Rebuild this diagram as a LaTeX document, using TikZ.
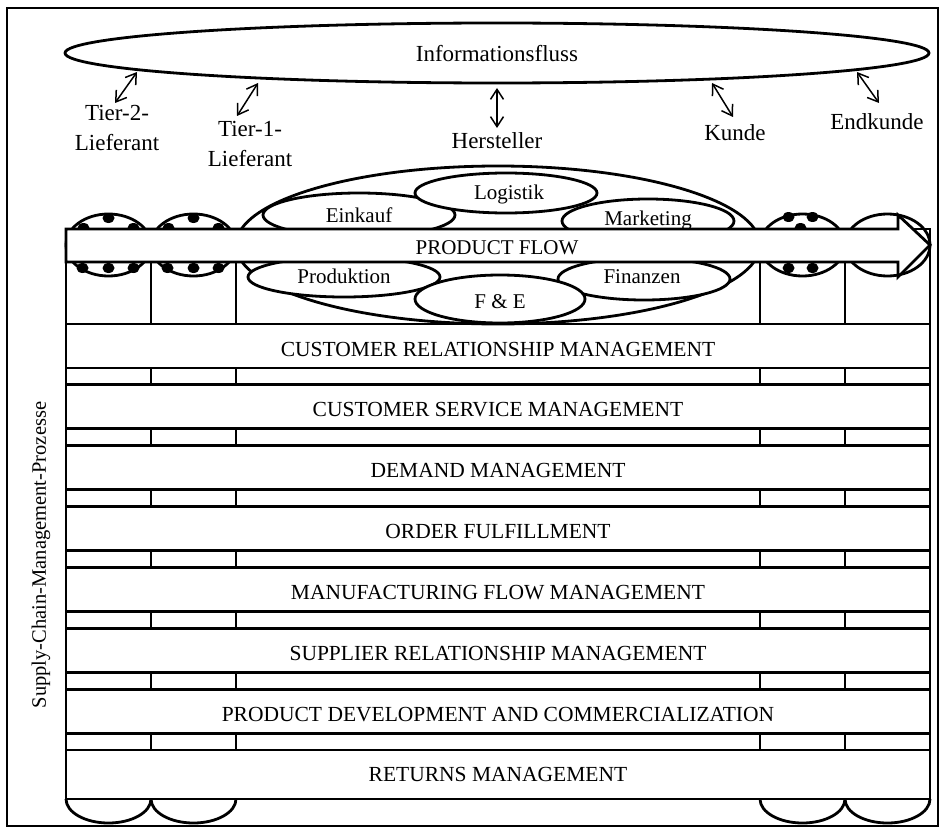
\documentclass[tikz,border=0pt]{standalone}
\usepackage{fontspec}
\setmainfont{Liberation Serif}
\usetikzlibrary{arrows.meta}
\begin{document}
\begin{tikzpicture}[x=1pt,y=-1pt,
  thick line/.style={line width=2.8pt},
  thin line/.style={line width=1.5pt},
  bandtext/.style={font=\fontsize{21.5}{26}\selectfont, anchor=base, inner sep=0pt},
  lbl/.style={font=\fontsize{23}{30}\selectfont, align=center, inner sep=0pt},
  unit/.style={font=\fontsize{21}{25}\selectfont, anchor=base, inner sep=0pt},
  infoarrow/.style={thin line, {Straight Barb[length=10pt,width=13pt]}-{Straight Barb[length=10pt,width=13pt]}},
  unitell/.style={thick line, fill=white},
]
\useasboundingbox (0,0) rectangle (944,832);
\draw[line width=1.4pt] (7,8) rectangle (938,826);

% ---- information flow ----
\draw[thick line] (497,53) ellipse [x radius=432pt, y radius=30pt];
\node[font=\fontsize{23}{28}\selectfont, anchor=base, inner sep=0pt] (info) at (497,62) {Informationsfluss};

\node[lbl] (t2) at (117,128) {Tier-2-\\Lieferant};
\node[lbl] (t1) at (250,144) {Tier-1-\\Lieferant};
\node[lbl, anchor=base] (her) at (497,148) {Hersteller};
\node[lbl, anchor=base] (kun) at (735,140) {Kunde};
\node[lbl, anchor=base] (end) at (877,129) {Endkunde};

\coordinate (i2) at (137,72);  \coordinate (l2) at (115,103);
\coordinate (i1) at (258,83);  \coordinate (l1) at (237,116);
\coordinate (ih) at (497,88);  \coordinate (lh) at (497,128);
\coordinate (ik) at (712,83);  \coordinate (lk) at (733,117);
\coordinate (ie) at (857,72);  \coordinate (le) at (879,103);
\draw[infoarrow] (i2) -- (l2);
\draw[infoarrow] (i1) -- (l1);
\draw[infoarrow] (ih) -- (lh);
\draw[infoarrow] (ik) -- (lk);
\draw[infoarrow] (ie) -- (le);

% ---- suppliers and customers (small ellipses) ----
\foreach \cx in {108.5,193.5}{
  \draw[thick line] (\cx,245) ellipse [x radius=42.5pt, y radius=31pt];
  \foreach \dx/\dy in {0/-27,-25/-17,25/-17,-26/23,0/23,25/23}
    \fill (\cx+\dx,245+\dy) ellipse [x radius=6pt, y radius=5pt];
}
\draw[thick line] (802.5,245) ellipse [x radius=42.5pt, y radius=31pt];
\foreach \dx/\dy in {-14/-28,10/-28,-2/-17,-14/23,10/23}
  \fill (802.5+\dx,245+\dy) ellipse [x radius=6pt, y radius=5pt];
\draw[thick line] (887.5,245) ellipse [x radius=42.5pt, y radius=31pt];

% ---- manufacturer with its functions ----
\draw[thick line] (498,245) ellipse [x radius=262pt, y radius=79pt];
\draw[unitell] (359,215) ellipse [x radius=96pt, y radius=22pt];
\draw[unitell] (648,221) ellipse [x radius=86pt, y radius=22pt];
\draw[unitell] (506,193) ellipse [x radius=91pt, y radius=20pt];
\draw[unitell] (344,277) ellipse [x radius=96pt, y radius=20pt];
\draw[unitell] (644,279) ellipse [x radius=86pt, y radius=21pt];
\draw[unitell] (500,299) ellipse [x radius=85pt, y radius=24pt];
\node[unit] (ek) at (359,222) {Einkauf};
\node[unit] (lo) at (509,199) {Logistik};
\node[unit] (mk) at (648,225) {Marketing};
\node[unit] (pr) at (344,283) {Produktion};
\node[unit] (fi) at (642,283) {Finanzen};
\node[unit] (fe) at (500,308) {F \& E};

% ---- process frame ----
\draw[thick line] (66,229) rectangle (930,799);
\foreach \xx in {151,236,760,845}
  \draw[thick line] (\xx,262) -- (\xx,324);
\foreach \i in {0,...,7}{
  \pgfmathsetmacro{\tp}{324+\i*60.857}
  \draw[thick line] (66,\tp) -- (930,\tp);
}
\foreach \i in {0,...,6}{
  \pgfmathsetmacro{\bt}{368+\i*60.857}
  \pgfmathsetmacro{\nx}{384.857+\i*60.857}
  \draw[thick line] (66,\bt) -- (930,\bt);
  \foreach \xx in {151,236,760,845}
    \draw[thick line] (\xx,\bt) -- (\xx,\nx);
}
\node[bandtext] (p1) at (498,356) {CUSTOMER RELATIONSHIP MANAGEMENT};
\node[bandtext] (p2) at (498,416.9) {CUSTOMER SERVICE MANAGEMENT};
\node[bandtext] (p3) at (498,477.7) {DEMAND MANAGEMENT};
\node[bandtext] (p4) at (498,538.6) {ORDER FULFILLMENT};
\node[bandtext] (p5) at (498,599.4) {MANUFACTURING FLOW MANAGEMENT};
\node[bandtext] (p6) at (498,660.3) {SUPPLIER RELATIONSHIP MANAGEMENT};
\node[bandtext] (p7) at (498,721.1) {PRODUCT DEVELOPMENT AND COMMERCIALIZATION};
\node[bandtext] (p8) at (498,781) {RETURNS MANAGEMENT};

% bottom half ellipses
\foreach \xs in {66,151,760,845}
  \draw[thick line] (\xs,799) arc [start angle=180, end angle=360, x radius=42.5pt, y radius=24pt];

% ---- product flow arrow ----
\draw[thick line, fill=white, line join=miter]
  (66,229) -- (898,229) -- (898,215) -- (930,245) -- (898,277) -- (898,262) -- (66,262) -- cycle;
\node[unit] (pf) at (497,254) {PRODUCT FLOW};

\node[font=\fontsize{20.5}{24}\selectfont, rotate=90, inner sep=0pt] (side) at (41,555) {Supply-Chain-Management-Prozesse};
\end{tikzpicture}
\end{document}
